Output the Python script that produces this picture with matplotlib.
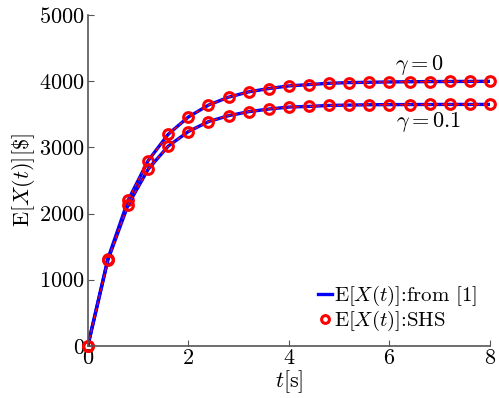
import matplotlib
matplotlib.use("Agg")
import matplotlib.pyplot as plt

plt.rcParams['font.family'] = ['cmr10', 'DejaVu Serif']
plt.rcParams['mathtext.fontset'] = 'cm'
plt.rcParams['axes.formatter.use_mathtext'] = True

# sample times (s)
t = [0, 0.4, 0.8, 1.2, 1.6, 2.0, 2.4, 2.8, 3.2, 3.6, 4.0,
     4.4, 4.8, 5.2, 5.6, 6.0, 6.4, 6.8, 7.2, 7.6, 8.0]
# E[X(t)] for gamma = 0
ex_g0 = [0, 1320, 2200, 2800, 3200, 3460, 3640, 3760, 3840, 3890, 3930,
         3950, 3970, 3980, 3985, 3990, 3993, 3995, 3997, 3998, 3999]
# E[X(t)] for gamma = 0.1
ex_g01 = [0, 1300, 2130, 2670, 3020, 3240, 3390, 3480, 3540, 3580, 3610,
          3620, 3635, 3640, 3645, 3647, 3648, 3649, 3650, 3650, 3650]

fig = plt.figure(figsize=(4.99, 3.98), dpi=100)
ax = fig.add_axes([0.176, 0.131, 0.806, 0.831])

for i, y in enumerate([ex_g0, ex_g01]):
    ax.plot(t, y, color='#0000ff', lw=2.4, label=r'$\mathrm{E}[X(t)]$:from [1]' if i == 0 else None)
    ax.plot(t, y, color='red', lw=1, ls='--', dashes=(3, 2))
    ax.plot(t, y, ls='none', marker='o', ms=7, mfc='none', mec='red', mew=2.2, clip_on=False,
            label=r'$\mathrm{E}[X(t)]$:SHS' if i == 0 else None)

ax.text(6.6, 4250, r'$\gamma = 0$', fontsize=16, ha='center', va='center')
ax.text(6.77, 3385, r'$\gamma = 0.1$', fontsize=16, ha='center', va='center')

ax.set_xlim(0, 8)
ax.set_ylim(0, 5000)
ax.set_xticks([0, 2, 4, 6, 8])
ax.set_yticks([0, 1000, 2000, 3000, 4000, 5000])
ax.tick_params(direction='in', length=4, color='#555555', labelsize=16, pad=2)
for s in ['top', 'right']:
    ax.spines[s].set_visible(False)
for s in ['left', 'bottom']:
    ax.spines[s].set_color('#555555')
    ax.spines[s].set_linewidth(1.2)

ax.set_xlabel(r'$t$[s]', fontsize=16, labelpad=0)
ax.set_ylabel(r'$\mathrm{E}[X(t)][\$]$', fontsize=16, labelpad=2)

ax.legend(loc='lower right', frameon=False, fontsize=15, handlelength=0.7,
          handletextpad=0.1, borderaxespad=0.2, labelspacing=0.05, markerscale=0.8)

fig.savefig('out.png', dpi=100)
